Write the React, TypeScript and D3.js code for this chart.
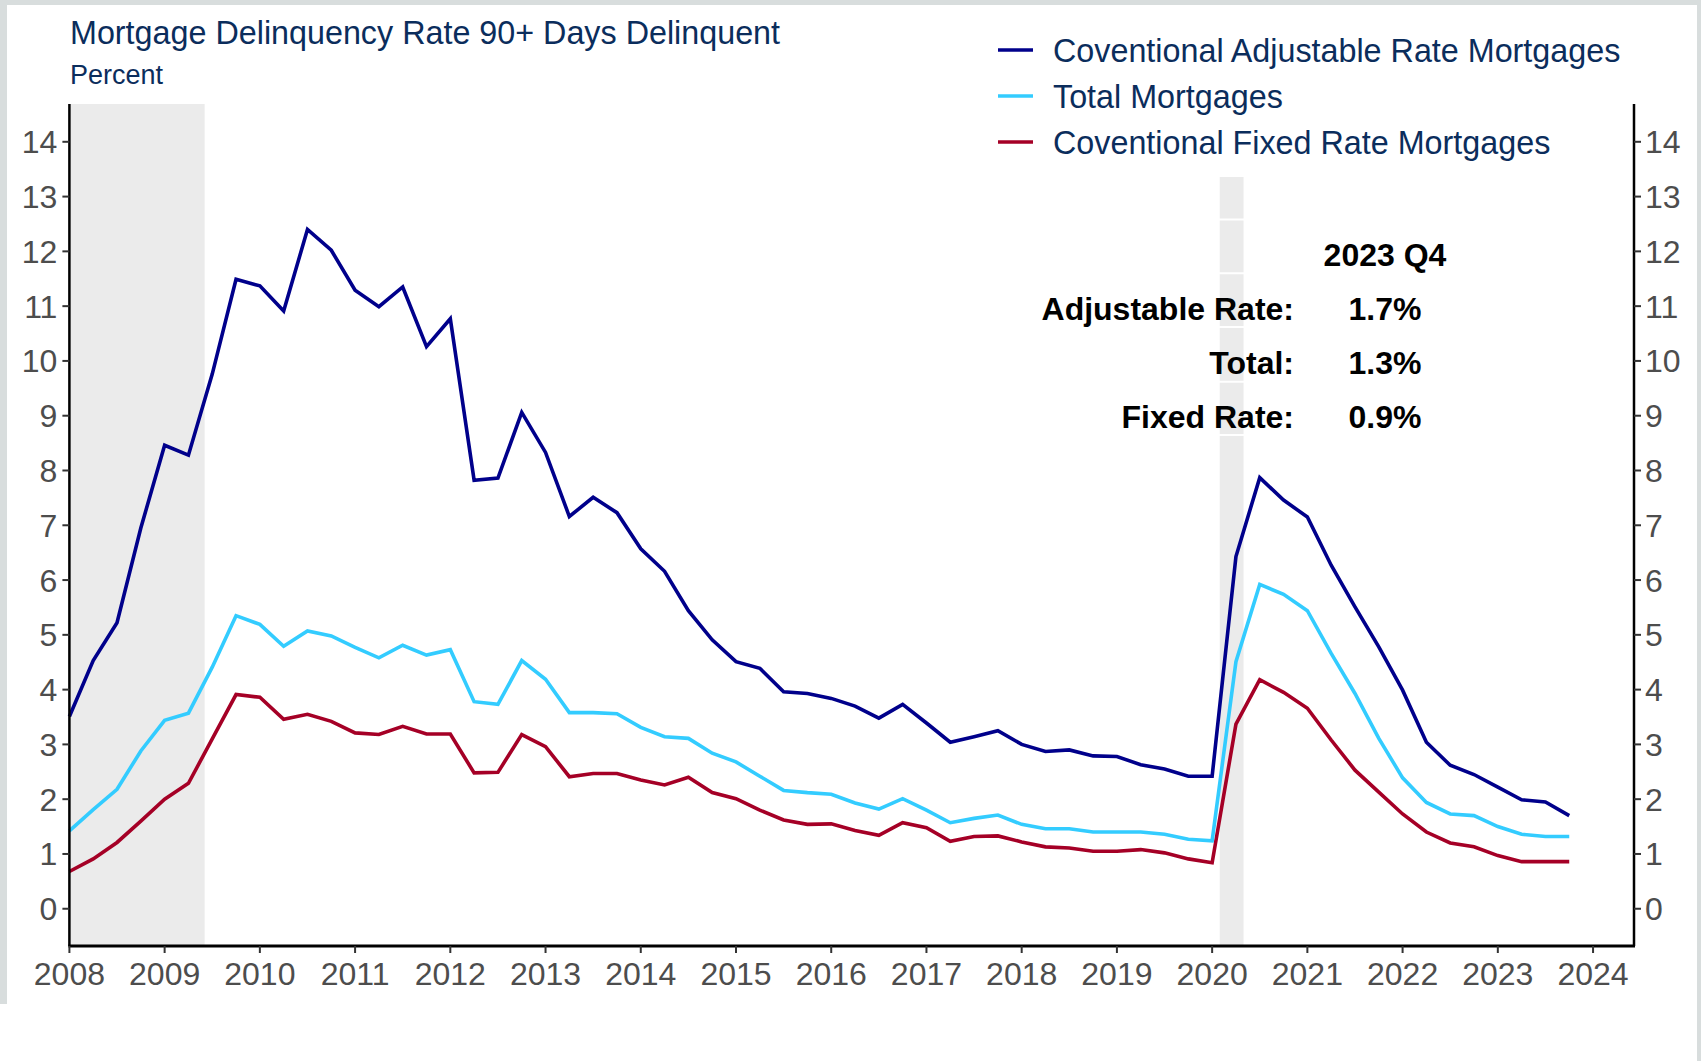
import React from 'react';
import * as d3 from 'd3';

const years = [2008, 2009, 2010, 2011, 2012, 2013, 2014, 2015, 2016, 2017, 2018, 2019, 2020, 2021, 2022, 2023];

// quarterly values, Q1..Q4 for each year
const adjustable = [
  3.51, 4.53, 5.22, 6.95,
  8.46, 8.28, 9.76, 11.49,
  11.37, 10.91, 12.40, 12.02,
  11.29, 10.99, 11.35, 10.26,
  10.77, 7.82, 7.86, 9.06,
  8.33, 7.16, 7.51, 7.23,
  6.57, 6.16, 5.44, 4.91,
  4.51, 4.39, 3.96, 3.93,
  3.84, 3.70, 3.48, 3.73,
  3.39, 3.04, 3.14, 3.25,
  3.00, 2.87, 2.90, 2.79,
  2.78, 2.63, 2.55, 2.42,
  2.42, 6.43, 7.87, 7.46,
  7.15, 6.27, 5.51, 4.78,
  3.99, 3.04, 2.62, 2.45,
  2.22, 1.99, 1.95, 1.70,
];

const total = [
  1.42, 1.81, 2.18, 2.88,
  3.44, 3.57, 4.41, 5.35,
  5.19, 4.79, 5.07, 4.98,
  4.77, 4.58, 4.81, 4.63,
  4.73, 3.78, 3.73, 4.53,
  4.19, 3.58, 3.58, 3.56,
  3.31, 3.14, 3.11, 2.84,
  2.68, 2.42, 2.16, 2.12,
  2.09, 1.93, 1.82, 2.01,
  1.80, 1.57, 1.65, 1.71,
  1.54, 1.46, 1.46, 1.40,
  1.40, 1.40, 1.36, 1.27,
  1.24, 4.51, 5.92, 5.74,
  5.44, 4.66, 3.93, 3.11,
  2.39, 1.94, 1.73, 1.70,
  1.50, 1.36, 1.32, 1.32,
];

const fixed = [
  0.68, 0.91, 1.21, 1.60,
  2.00, 2.29, 3.10, 3.91,
  3.86, 3.46, 3.55, 3.42,
  3.21, 3.18, 3.33, 3.19,
  3.19, 2.48, 2.49, 3.18,
  2.96, 2.41, 2.47, 2.47,
  2.35, 2.26, 2.40, 2.12,
  2.01, 1.80, 1.62, 1.54,
  1.55, 1.43, 1.34, 1.57,
  1.48, 1.23, 1.32, 1.33,
  1.22, 1.13, 1.11, 1.05,
  1.05, 1.08, 1.02, 0.91,
  0.84, 3.37, 4.18, 3.95,
  3.66, 3.08, 2.53, 2.13,
  1.73, 1.40, 1.20, 1.13,
  0.97, 0.86, 0.86, 0.86,
];

const recessions = [
  [2008.0, 2009.42],
  [2020.08, 2020.33],
];

const xTicks = [2008, 2009, 2010, 2011, 2012, 2013, 2014, 2015, 2016, 2017, 2018, 2019, 2020, 2021, 2022, 2023, 2024];
const yTicks = [0, 1, 2, 3, 4, 5, 6, 7, 8, 9, 10, 11, 12, 13, 14];

const seriesNames = ['Coventional Adjustable Rate Mortgages', 'Total Mortgages', 'Coventional Fixed Rate Mortgages'];
const seriesColors = ['#00008B', '#33CCFF', '#A50026'];

const summaryLabels = ['Adjustable Rate:', 'Total:', 'Fixed Rate:'];
const summaryValues = ['1.7%', '1.3%', '0.9%'];

const W = 1701;
const H = 1061;
const FONT = '"Liberation Sans", Arial, sans-serif';
const NAVY = '#0b2d5c';

export default function App() {
  const left = 69.4;
  const right = 1634;
  const top = 104;
  const bottom = 946;

  const x = d3.scaleLinear().domain([2008, 2024.43]).range([left, right]);
  const y = d3.scaleLinear().domain([-0.68, 14.69]).range([bottom, top]);

  const dates = years.flatMap(yr => [0, 1, 2, 3].map(q => yr + q / 4));
  const series = [adjustable, total, fixed];

  const line = d3.line<number>()
    .x((_, i) => x(dates[i]))
    .y(d => y(d));

  // draw order: fixed, total, adjustable on top
  const order = [2, 1, 0];

  return (
    <svg width={W} height={H} style={{ position: 'absolute', left: 0, top: 0, display: 'block' }}
      fontFamily={FONT}>
      <rect width={W} height={H} fill="#fff" />
      {/* screenshot frame */}
      <rect x={0} y={0} width={W} height={5} fill="#d8dddd" />
      <rect x={0} y={0} width={7} height={1004} fill="#d8dddd" />
      <rect x={1697} y={0} width={4} height={H} fill="#d8dddd" />

      {/* recession shading */}
      {recessions.map(([a, b], i) => (
        <rect key={i} x={x(a)} y={top} width={x(b) - x(a)} height={bottom - top} fill="#ebebeb" />
      ))}

      {/* table row separators over the shading */}
      {[12.58, 11.6, 10.62, 9.62, 8.65].map((v, i) => (
        <line key={i} x1={1100} x2={1420} y1={y(v)} y2={y(v)} stroke="#fff" strokeWidth={2} />
      ))}

      {/* series */}
      {order.map(k => (
        <path key={k} d={line(series[k]) || ''} fill="none" stroke={seriesColors[k]}
          strokeWidth={3.6} strokeLinejoin="miter" />
      ))}

      {/* legend box */}
      <rect x={985} y={top - 2} width={right - 987} height={75} fill="#fff" />
      {seriesNames.map((name, i) => (
        <g key={name} transform={`translate(998, ${50 + i * 46})`}>
          <line x1={0} x2={35} y1={0} y2={0} stroke={seriesColors[i]} strokeWidth={3.6} />
          <text x={55} y={0} dy="0.36em" fontSize={32.3} fill={NAVY}>{name}</text>
        </g>
      ))}

      {/* axes */}
      <line x1={left} x2={left} y1={top} y2={bottom} stroke="#000" strokeWidth={2.5} />
      <line x1={right} x2={right} y1={top} y2={bottom} stroke="#000" strokeWidth={2.5} />
      <line x1={left - 1} x2={right + 1} y1={bottom} y2={bottom} stroke="#000" strokeWidth={3} />

      {yTicks.map(t => (
        <g key={t}>
          <line x1={left - 7} x2={left} y1={y(t)} y2={y(t)} stroke="#333" strokeWidth={2} />
          <text x={left - 12} y={y(t)} dy="0.36em" textAnchor="end" fontSize={32} fill="#4d4d4d">{t}</text>
          <line x1={right} x2={right + 7} y1={y(t)} y2={y(t)} stroke="#333" strokeWidth={2} />
          <text x={right + 11} y={y(t)} dy="0.36em" textAnchor="start" fontSize={32} fill="#4d4d4d">{t}</text>
        </g>
      ))}
      {xTicks.map(t => (
        <g key={t}>
          <line x1={x(t)} x2={x(t)} y1={bottom} y2={bottom + 7} stroke="#333" strokeWidth={2} />
          <text x={x(t)} y={bottom + 39} textAnchor="middle" fontSize={32} fill="#4d4d4d">{t}</text>
        </g>
      ))}

      {/* titles */}
      <text x={70} y={44} fontSize={32.3} fill={NAVY}>Mortgage Delinquency Rate 90+ Days Delinquent</text>
      <text x={70} y={84} fontSize={27} fill={NAVY}>Percent</text>

      {/* latest values table */}
      <text x={1385} y={254} dy="0.36em" textAnchor="middle" fontSize={32} fontWeight="bold" fill="#000">2023 Q4</text>
      {summaryLabels.map((lab, i) => (
        <g key={lab}>
          <text x={1294} y={308 + i * 54.3} dy="0.36em" textAnchor="end" fontSize={32} fontWeight="bold" fill="#000">{lab}</text>
          <text x={1385} y={308 + i * 54.3} dy="0.36em" textAnchor="middle" fontSize={32} fontWeight="bold" fill="#000">{summaryValues[i]}</text>
        </g>
      ))}
    </svg>
  );
}
